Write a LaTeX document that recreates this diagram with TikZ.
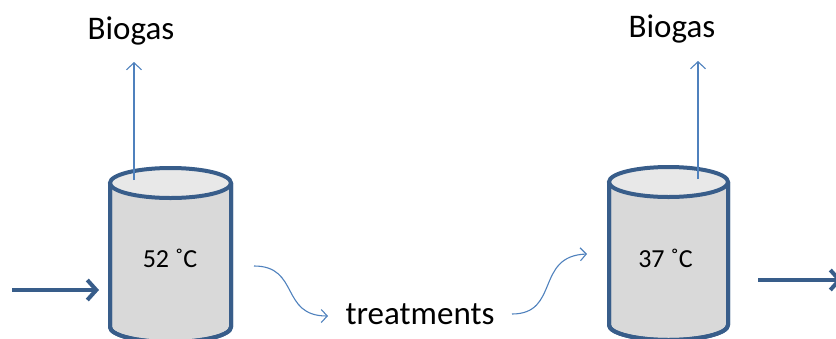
\documentclass[tikz,border=0pt]{standalone}
\usepackage{fontspec}
\setmainfont{Carlito}
\usetikzlibrary{arrows.meta}
\definecolor{cylline}{HTML}{385D8A}
\definecolor{thinblue}{HTML}{4F81BD}
\definecolor{bodyfill}{HTML}{D9D9D9}
\definecolor{topfill}{HTML}{E8E8E8}
\begin{document}
\begin{tikzpicture}[x=1pt,y=-1pt,
  cyl/.style={draw=cylline,line width=4pt,fill=bodyfill,line join=round},
  cyltop/.style={draw=cylline,line width=4pt,fill=topfill},
  biglabel/.style={font=\fontsize{33}{40}\selectfont,anchor=base,inner sep=0pt},
  templabel/.style={font=\fontsize{26}{30}\selectfont,inner sep=0pt},
  gasarrow/.style={draw=thinblue,line width=1.1pt,-{Straight Barb[length=7pt,width=15pt]}},
  flowarrow/.style={draw=thinblue,line width=1.1pt,-{Straight Barb[length=6pt,width=13pt]}},
  thickarrow/.style={draw=cylline,line width=4pt,-{Straight Barb[length=9pt,width=20pt,line width=4pt]}}]
\useasboundingbox (0,0) rectangle (836,338);
% cylinder 1
\path[cyl] (110,183) -- (110,327) arc[start angle=180,end angle=360,x radius=60.5pt,y radius=15pt] -- (231,183) -- cycle;
\draw[cylline,line width=4pt] (110,183) -- (110,327) arc[start angle=180,end angle=360,x radius=60.5pt,y radius=15pt] -- (231,183);
\draw[cyltop] (170.5,183) ellipse[x radius=60.5pt,y radius=15pt];
% cylinder 2
\path[cyl] (609,182) -- (609,325) arc[start angle=180,end angle=360,x radius=59.5pt,y radius=15pt] -- (728,182) -- cycle;
\draw[cylline,line width=4pt] (609,182) -- (609,325) arc[start angle=180,end angle=360,x radius=59.5pt,y radius=15pt] -- (728,182);
\draw[cyltop] (668.5,182) ellipse[x radius=59.5pt,y radius=15pt];
% labels
\node[biglabel] (biogas1) at (131,39) {Biogas};
\node[biglabel] (biogas2) at (672,37) {Biogas};
\node[biglabel] (treat) at (420,324) {treatments};
\node[templabel] (temp1) at (170,258) {52 ˚C};
\node[templabel] (temp2) at (665.5,258) {37 ˚C};
% connector ends
\coordinate (g1s) at (134,180);
\coordinate (g1e) at (134,62);
\coordinate (g2s) at (698,179);
\coordinate (g2e) at (698,61);
\coordinate (ins) at (12,290);
\coordinate (ine) at (99,290);
\coordinate (outs) at (758,280);
\coordinate (oute) at (842,280);
\coordinate (c1s) at (254,266);
\coordinate (c1e) at (328,316);
\coordinate (c2s) at (512,314);
\coordinate (c2e) at (587,254);
% arrows
\draw[gasarrow] (g1s) -- (g1e);
\draw[gasarrow] (g2s) -- (g2e);
\draw[thickarrow] (ins) -- (ine);
\draw[thickarrow] (outs) -- (oute);
\draw[flowarrow] (c1s) .. controls (300,266) and (280,316) .. (c1e);
\draw[flowarrow] (c2s) .. controls (560,314) and (535,256) .. (c2e);
\end{tikzpicture}
\end{document}
